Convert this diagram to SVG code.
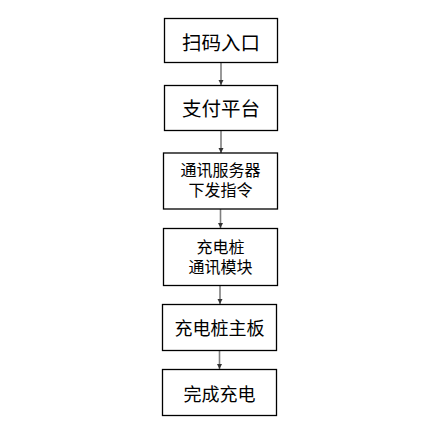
<svg xmlns="http://www.w3.org/2000/svg" width="437" height="445" viewBox="0 0 437 445">
<style>
.box{fill:#fff;stroke:#000;stroke-width:1.3}
.t{font-family:"Liberation Sans","Noto Sans CJK SC",sans-serif;fill:#000;text-anchor:middle;dominant-baseline:central}
.c{stroke:#7f7f7f;stroke-width:1.6;fill:none;marker-end:url(#ah)}
</style>
<defs>
<marker id="ah" markerWidth="6" markerHeight="6" refX="5" refY="3" orient="auto" markerUnits="userSpaceOnUse">
<path d="M0,0.5 L5,3 L0,5.5 Z" fill="#333"/>
</marker>
</defs>
<rect width="437" height="445" fill="#fff"/>
<g id="connectors">
<line class="c" x1="221" y1="63" x2="221" y2="85"/>
<line class="c" x1="221" y1="131" x2="221" y2="153"/>
<line class="c" x1="220.5" y1="209" x2="220.5" y2="228"/>
<line class="c" x1="220" y1="286" x2="220" y2="304"/>
<line class="c" x1="219.5" y1="350" x2="219.5" y2="369"/>
</g>
<g id="n1"><rect class="box" x="164.5" y="18.5" width="113" height="44"/><text class="t" x="221" y="43" font-size="19.5">扫码入口</text></g>
<g id="n2"><rect class="box" x="164.5" y="85.5" width="113" height="45"/><text class="t" x="221" y="109" font-size="19.5">支付平台</text></g>
<g id="n3"><rect class="box" x="163.5" y="153" width="114" height="56"/><text class="t" x="220.5" y="170.5" font-size="16">通讯服务器</text><text class="t" x="220.5" y="190.5" font-size="16">下发指令</text></g>
<g id="n4"><rect class="box" x="163.5" y="228.5" width="114" height="57"/><text class="t" x="220.5" y="247.5" font-size="16">充电桩</text><text class="t" x="220.5" y="267" font-size="16">通讯模块</text></g>
<g id="n5"><rect class="box" x="162.5" y="304.5" width="114" height="46"/><text class="t" x="219.5" y="329" font-size="18">充电桩主板</text></g>
<g id="n6"><rect class="box" x="162.5" y="369.5" width="114" height="46"/><text class="t" x="219.5" y="395" font-size="18">完成充电</text></g>
</svg>
